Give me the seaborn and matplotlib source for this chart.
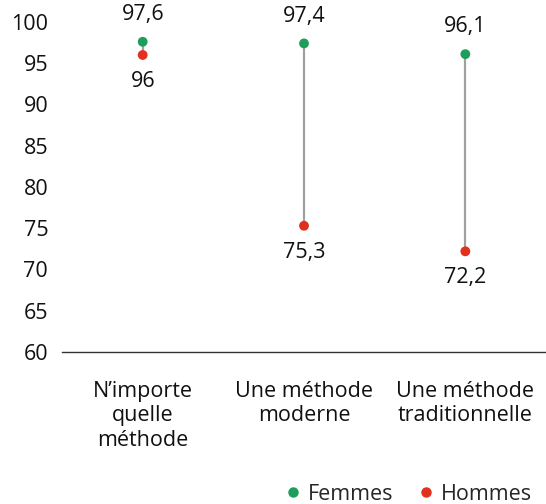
import matplotlib
matplotlib.use("Agg")
import matplotlib.pyplot as plt
import seaborn as sns
import pandas as pd

# ==================== DATA ====================
categories = ["N’importe\nquelle\nméthode", "Une méthode\nmoderne", "Une méthode\ntraditionnelle"]
femmes = [97.6, 97.4, 96.1]
hommes = [96.0, 75.3, 72.2]
labels_f = ["97,6", "97,4", "96,1"]
labels_h = ["96", "75,3", "72,2"]
yticks = [60, 65, 70, 75, 80, 85, 90, 95, 100]

green = "#1e9e5c"
red = "#e2301f"

sns.set_theme(style="white")
plt.rcParams['font.family'] = ['Open Sans', 'DejaVu Sans']

df = pd.DataFrame({
    "x": list(range(3)) * 2,
    "val": femmes + hommes,
    "sexe": ["Femmes"] * 3 + ["Hommes"] * 3,
})

fig = plt.figure(figsize=(5.46, 5.04), dpi=100)
ax = fig.add_axes([0.1136, 0.3016, 0.8864, 0.6548])

# grey connectors
ax.vlines(range(3), hommes, femmes, color="#a0a0a0", lw=1.6, zorder=1)
sns.scatterplot(data=df, x="x", y="val", hue="sexe", palette={"Femmes": green, "Hommes": red},
                s=50, edgecolor="none", zorder=3, ax=ax, legend=False, clip_on=False)

fs = 15.5
for i in range(3):
    ax.text(i, femmes[i] + 3.3, labels_f[i], ha="center", va="center", fontsize=fs, color="#111111")
    ax.text(i, hommes[i] - 3.2, labels_h[i], ha="center", va="center", fontsize=fs, color="#111111")

ax.set_xlim(-0.5, 2.5)
ax.set_ylim(60, 100)
ax.set_xticks(range(3))
ax.set_xticklabels(categories, fontsize=fs, color="#111111", linespacing=1.2)
ax.set_yticks(yticks)
ax.set_yticklabels([str(t) for t in yticks], fontsize=fs, color="#111111")
ax.tick_params(axis="both", length=0)
ax.tick_params(axis="x", pad=21)
ax.tick_params(axis="y", pad=10)
ax.set_xlabel("")
ax.set_ylabel("")
for s in ["top", "right", "left"]:
    ax.spines[s].set_visible(False)
ax.spines["bottom"].set_color("#333333")
ax.spines["bottom"].set_linewidth(1)

# legend
handles = [plt.Line2D([], [], marker="o", ls="", color=green, markersize=6.5),
           plt.Line2D([], [], marker="o", ls="", color=red, markersize=6.5)]
fig.legend(handles, ["Femmes", "Hommes"], loc="lower right", bbox_to_anchor=(1.01, -0.04),
           ncol=2, frameon=False, fontsize=fs, handletextpad=0.2, columnspacing=1.0,
           handlelength=1.0)

plt.savefig("out.png", dpi=100)
